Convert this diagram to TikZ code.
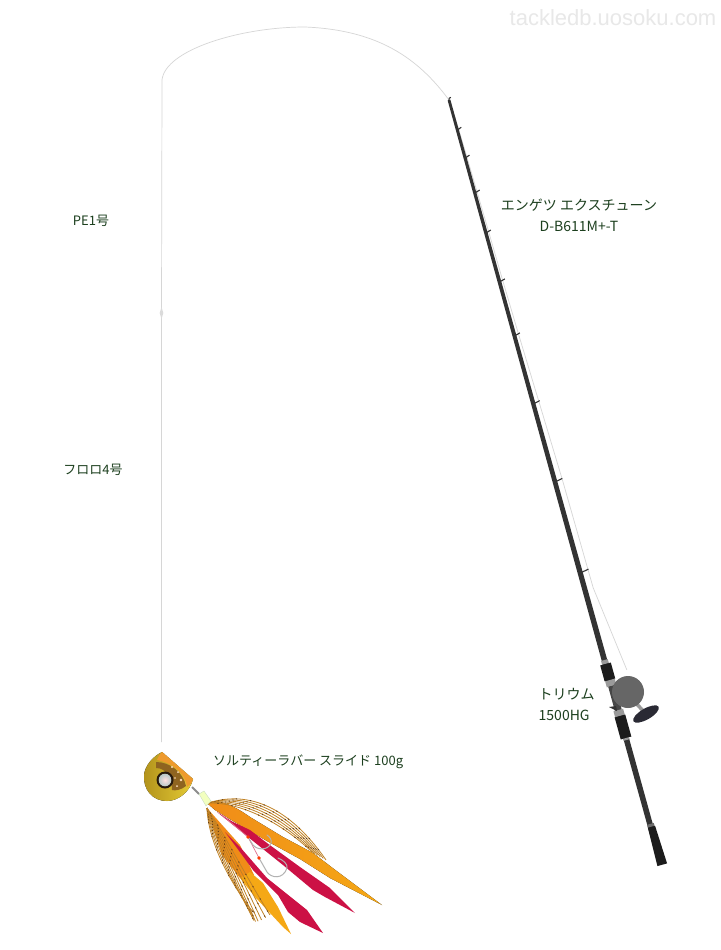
\documentclass[tikz,border=0pt]{standalone}
\usepackage{fontspec}
\setmainfont{Noto Sans CJK JP}
\newfontfamily\markfont{Liberation Sans}
\definecolor{labelgreen}{HTML}{1C3F1E}
\definecolor{linegray}{HTML}{D6D6D6}
\definecolor{rodgray}{HTML}{333333}
\definecolor{gripblack}{HTML}{1C1C1C}
\definecolor{bandgray}{HTML}{9A9A9A}
\definecolor{skirtorange}{HTML}{F5A815}
\definecolor{skirtdeep}{HTML}{F08C18}
\definecolor{skirtred}{HTML}{CC1145}
\definecolor{strandtan}{HTML}{C08226}
\definecolor{strandbrown}{HTML}{5E3A16}
\definecolor{goldlow}{HTML}{B2921C}
\definecolor{goldhigh}{HTML}{E4CB35}
\definecolor{knobdark}{HTML}{2A2A34}
\definecolor{amberrim}{HTML}{EE9A2E}
\definecolor{amberdark}{HTML}{8F6420}
\tikzset{
  x=1pt,y=-1pt,
  caption/.style={text=labelgreen,inner sep=0pt,font=\fontsize{13}{21}\selectfont},
  captionlarge/.style={text=labelgreen,inner sep=0pt,font=\fontsize{14}{21}\selectfont},
  fishline/.style={draw=linegray,line width=0.7pt},
  guidetick/.style={draw=rodgray,line width=1.1pt},
  strand/.style={draw=strandtan,line width=0.8pt},
  speckle/.style={draw=strandbrown,line width=0.9pt,dash pattern=on 1.2pt off 13pt},
  hookwire/.style={draw=black!30,line width=1pt,line cap=round},
  rodframe/.style={cm={0.963,0.267,-0.2775,1,(449,100)}}
}
\begin{document}
\begin{tikzpicture}
\useasboundingbox (0,0) rectangle (720,950);
\fill[white] (0,0) rectangle (720,950);

% site mark
\node[text=black!9,inner sep=0pt,font=\markfont\fontsize{22}{22}\selectfont] (site) at (613,18) {tackledb.uosoku.com};

% line from the tip, over the arc, down to the knot and jig
\coordinate (tipeye) at (449,100);
\coordinate (bend) at (162,80);
\coordinate (knot) at (161.5,313);
\coordinate (snap) at (161.5,742);
\draw[fishline] (bend) .. controls (165,50) and (240,27) .. (305,27)
  .. controls (378,30) and (418,58) .. (tipeye);
\draw[fishline] (bend) -- (knot) -- (snap);
\fill[black!14] (161.5,307) -- (163.3,313) -- (161.5,319) -- (159.7,313) -- cycle;

% rod, in a frame running along the blank: u across, v = height below the tip
\begin{scope}[rodframe]
  % running line through the guides down to the reel
  \draw[fishline] (0,0) -- (1.5,30) -- (2,58) -- (2.5,93) -- (3,133) -- (3.5,182)
    -- (4.4,236) -- (6,304) -- (7.7,382) -- (8.5,490) -- (19,575);
  % blank
  \fill[rodgray] (-1.4,0) -- (1.4,0) -- (2.8,560) -- (2.8,762) -- (-2.8,762) -- (-2.8,560) -- cycle;
  % guides
  \foreach \v/\u in {30/4.5,58/5,93/5.5,133/5.5,182/6,236/6,304/7,382/8,473/9}
    \draw[guidetick] (0,\v) -- (\u,\v-1.5);
  \draw[guidetick] (0,3) -- (0,0) .. controls (0,-1.5) and (1,-2) .. (2.5,-2);
  % grips and reel seat
  \fill[bandgray] (-3.5,560) rectangle (3.5,564);
  \fill[gripblack] (-5.5,564) rectangle (5.5,580);
  \fill[bandgray] (-5,580) rectangle (5,586);
  \fill[rodgray!90] (-3.5,586) rectangle (3.5,610);
  \fill[bandgray] (-5,610) rectangle (5,616);
  \fill[gripblack] (-5.5,616) rectangle (5.5,638);
  \fill[bandgray] (-3,638) rectangle (3,640);
  \fill[bandgray!70!black] (-3,724) rectangle (4,727);
  \fill[gripblack] (-3,727) -- (4.5,727) -- (6,765) -- (-4,765) -- cycle;
\end{scope}
% trigger under the reel seat
\fill[rodgray] (609,707) -- (616,706) -- (617,711) -- cycle;

% reel: crank stem, knob and spool
\draw[bandgray,line width=3.5pt] (634,701) -- (646,714);
\fill[knobdark] (646,714) ellipse[x radius=14.5,y radius=5.5,rotate=30];
\fill[black!60] (628,692) circle[radius=16];

% flat orange tails
\fill[left color=skirtdeep,right color=skirtorange]
  (207,803) -- (220,802) .. controls (230,804) and (240,810) .. (250,817)
  -- (283,837) -- (313,853) -- (330,866) -- (382,905) -- (330,878) -- (300,859)
  -- (267,841) -- (233,821) -- (215,810) -- cycle;
\fill[skirtdeep] (207,808) -- (240,845) -- (254,875) -- (240,878) -- (222,855) -- cycle;
\fill[skirtorange] (250,872) -- (263,883) -- (278,907) -- (291,934) -- (283,927)
  -- (270,913) -- (255,897) -- (240,878) -- cycle;

% rubber strands, upper bundle
\foreach \t in {0,0.2,...,1.01}{
  \draw[strand] (208,803) .. controls ({255-13*\t},{788+14*\t}) and ({295-12*\t},{815+9*\t})
    .. ({326-14*\t},{860-8*\t});
  \draw[speckle,dash phase=\t*19pt] (208,803) .. controls ({255-13*\t},{788+14*\t}) and ({295-12*\t},{815+9*\t})
    .. ({326-14*\t},{860-8*\t});
}
% rubber strands, lower bundle
\foreach \t in {0,0.125,...,1.01}{
  \draw[strand] (207,808) .. controls ({208+14*\t},{840-10*\t}) and ({228+17*\t},{880-5*\t})
    .. ({253+17*\t-6*sin(\t*180)},{912+3*\t+8*sin(\t*180)});
  \draw[speckle,dash phase=\t*23pt] (207,808) .. controls ({208+14*\t},{840-10*\t}) and ({228+17*\t},{880-5*\t})
    .. ({253+17*\t-6*sin(\t*180)},{912+3*\t+8*sin(\t*180)});
}

% red tails
\fill[skirtred] (217,812) -- (233,822) -- (250,830) -- (267,843) -- (300,867) -- (330,888)
  -- (355,913) -- (325,897) -- (313,890) -- (283,865) -- (243,833) -- cycle;
\fill[skirtred] (225,832) -- (240,847) -- (267,878) -- (292,898) -- (307,910) -- (323,933)
  -- (300,922) -- (288,912) -- (278,895) -- (253,870) -- (237,848) -- cycle;

% assist line, beads and hooks
\draw[skirtred!60,line width=0.7pt] (222,815) -- (248,837) -- (259,858);
\draw[hookwire] (248,837) -- (253,845) .. controls (257,850) and (268,851) .. (271,843)
  .. controls (272,840) and (270,837) .. (267,835);
\draw[hookwire] (259,858) -- (267,872) .. controls (271,878) and (283,880) .. (287,868)
  .. controls (288,864) and (283,860) .. (278,858);
\fill[red!55!orange] (248,837) circle[radius=1.8] (259,858) circle[radius=1.8];

% jig head: swivel, glow tube and weighted body
\draw[black!45,line width=1.8pt] (192,787) -- (199,794);
\fill[green!20!yellow!25!white,draw=green!35!black!25,line width=0.3pt]
  (199,794) -- (204,791) -- (211,801) -- (206,806) -- cycle;
\fill[left color=goldlow,right color=goldhigh]
  (162,752) -- (193,779) .. controls (190,792) and (178,801) .. (167,801)
  .. controls (152,801) and (143,789) .. (144,775)
  .. controls (145,766) and (152,757) .. (162,752) -- cycle;
% amber face with the reflective flecks beside the eye
\fill[amberrim] (162,752) -- (193,779) .. controls (192,783) and (190,785) .. (187,787)
  .. controls (186,778) and (178,764) .. (157,760) .. controls (158,757) and (160,754) .. (162,752) -- cycle;
\fill[amberdark] (156,762) .. controls (170,762) and (183,772) .. (186,786)
  .. controls (181,790) and (175,791) .. (172,790) .. controls (172,778) and (166,768) .. (156,768) -- cycle;
\fill[orange!25!white] (172,767) circle[radius=1.2] (178,772) circle[radius=1] (181,780) circle[radius=1.3]
  (177,786) circle[radius=1] (175,778) circle[radius=0.8];
\fill[black!80!brown] (165,780) circle[radius=8.5];
\shade[inner color=red!12!white,outer color=cyan!25!black!28] (165,780) circle[radius=6.3];

% labels
\node[caption] (pe) at (91,221) {PE1号};
\node[caption] (fluoro) at (93,470) {フロロ4号};
\node[captionlarge,align=center] (rod) at (579,215) {エンゲツ エクスチューン\\D-B611M+-T};
\node[captionlarge,align=left,anchor=west] (reel) at (538.5,704.5) {トリウム\\1500HG};
\node[caption,anchor=west] (jig) at (213,762) {ソルティーラバー スライド 100g};
\end{tikzpicture}
\end{document}
